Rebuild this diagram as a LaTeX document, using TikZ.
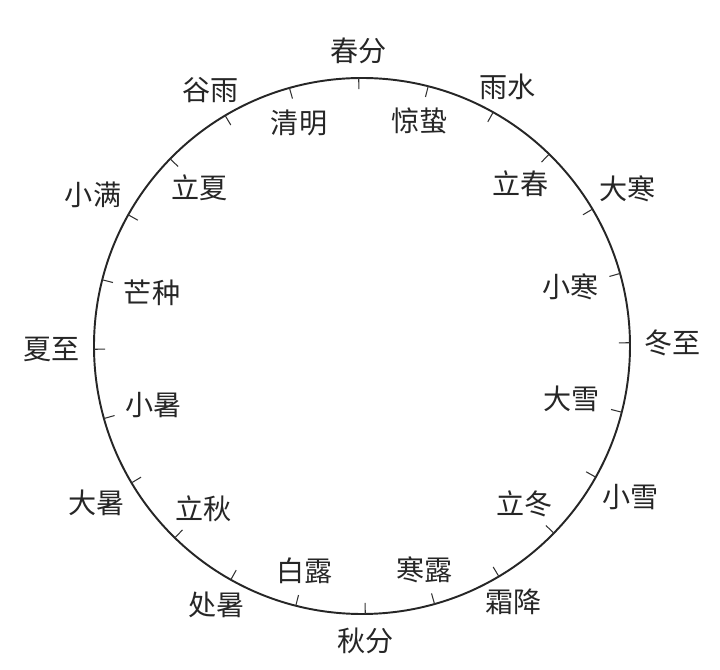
\documentclass[tikz,border=0pt]{standalone}
\usepackage{fontspec}
\newfontfamily\cjk{Noto Sans CJK SC}
\tikzset{
	termLabel/.style={inner sep=0pt, font=\cjk\fontsize{16}{18}\selectfont, text=black!85},
	ringLine/.style={line width=1.1pt, black!85},
	tickLine/.style={line width=0.6pt, black!80}
}
\begin{document}
\begin{tikzpicture}
			
			%Frame
			\useasboundingbox (-7.24,-6.48) rectangle (7.16,6.92);
			\def\rad{5.36}
			
			%Circle
			\draw[ringLine] (0,0) circle (\rad);
			
			%Ticks
			\foreach \a in {0,15,...,345}
			\draw[tickLine] (\a+0.7:\rad) -- (\a+0.7:\rad-0.22);
			
			%Outer terms
			\foreach \a/\t [count=\i] in {90/春分, 60/雨水, 30/大寒, 0/冬至, -30/小雪, -60/霜降, -90/秋分, -120/处暑, -150/大暑, 180/夏至, 150/小满, 120/谷雨}
			\node (outer\i) at (\a+0.7:\rad+0.28) [termLabel, anchor=\a+180] {\t};
			
			%Inner terms
			\foreach \a/\t [count=\i] in {75/惊蛰, 45/立春, 15/小寒, -15/大雪, -45/立冬, -75/寒露, -105/白露, -135/立秋, -165/小暑, 165/芒种, 135/立夏, 105/清明}
			\node (inner\i) at (\a+0.7:\rad-0.44) [termLabel, anchor=\a] {\t};
			
\end{tikzpicture}
\end{document}
